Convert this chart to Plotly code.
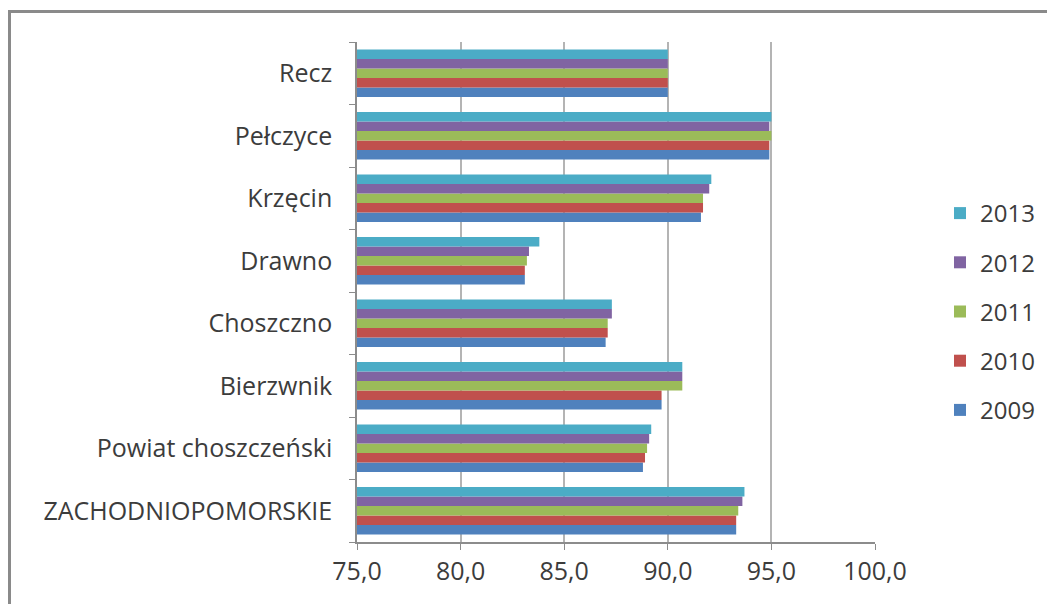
import plotly.graph_objects as go

categories = ["ZACHODNIOPOMORSKIE", "Powiat choszczeński", "Bierzwnik", "Choszczno",
              "Drawno", "Krzęcin", "Pełczyce", "Recz"]
years = ["2009", "2010", "2011", "2012", "2013"]
v2009 = [93.3, 88.8, 89.7, 87.0, 83.1, 91.6, 94.9, 90.0]
v2010 = [93.3, 88.9, 89.7, 87.1, 83.1, 91.7, 94.9, 90.0]
v2011 = [93.4, 89.0, 90.7, 87.1, 83.2, 91.7, 95.0, 90.0]
v2012 = [93.6, 89.1, 90.7, 87.3, 83.3, 92.0, 94.9, 90.0]
v2013 = [93.7, 89.2, 90.7, 87.3, 83.8, 92.1, 95.0, 90.0]
series = [v2009, v2010, v2011, v2012, v2013]
colors = ["#4F81BD", "#C0504D", "#9BBB59", "#8064A2", "#4BACC6"]
x_ticks = [75, 80, 85, 90, 95, 100]

FONT = "Open Sans"
TXT = "#3c3c3c"

fig = go.Figure()
n = len(years)
for i, (yr, vals, col) in enumerate(zip(years, series, colors)):
    fig.add_trace(go.Bar(
        y=categories, x=vals, name=yr, orientation="h",
        marker=dict(color=col, line=dict(width=0)),
        legendgroup=yr, legendrank=n - i,
    ))

# figure geometry (page body has an 8px margin)
W, H = 1047, 596
L, R, T, B = 349, 180, 34, 62
pw, ph = W - L - R, H - T - B

def px_x(p):
    return (p - L) / pw

def px_y(p):
    return (H - B - p) / ph

fig.add_shape(type="rect", xref="paper", yref="paper",
              x0=px_x(1.5), x1=px_x(1070), y0=px_y(640), y1=px_y(3.5),
              line=dict(color="#8a8a8a", width=3), layer="below")

fig.update_layout(
    width=W, height=H,
    margin=dict(l=L, r=R, t=T, b=B),
    barmode="group", bargap=0.24, bargroupgap=0,
    plot_bgcolor="white", paper_bgcolor="white",
    separators=", ",
    font=dict(family=FONT, size=25, color=TXT),
    xaxis=dict(range=[75, 100], tickvals=x_ticks, tickformat=".1f",
               showgrid=True, gridcolor="#b4b4b4", gridwidth=1.5,
               showline=True, linecolor="#8c8c8c", linewidth=1.5,
               ticks="outside", ticklen=6, tickcolor="#8c8c8c",
               tickfont=dict(family=FONT, size=25, color=TXT),
               zeroline=False, fixedrange=True),
    yaxis=dict(type="category", categoryorder="array", categoryarray=categories,
               showline=True, linecolor="#8c8c8c", linewidth=1.5,
               ticks="outside", ticklen=6, tickcolor="#8c8c8c",
               tickson="boundaries", ticklabelstandoff=18,
               tickfont=dict(family=FONT, size=25, color=TXT),
               showgrid=False, fixedrange=True),
    legend=dict(x=px_x(932), xanchor="left", y=px_y(183), yanchor="top",
                traceorder="grouped", tracegroupgap=15,
                font=dict(family=FONT, size=24, color=TXT),
                bgcolor="rgba(0,0,0,0)"),
    showlegend=True,
)

fig.write_html("out.html")
